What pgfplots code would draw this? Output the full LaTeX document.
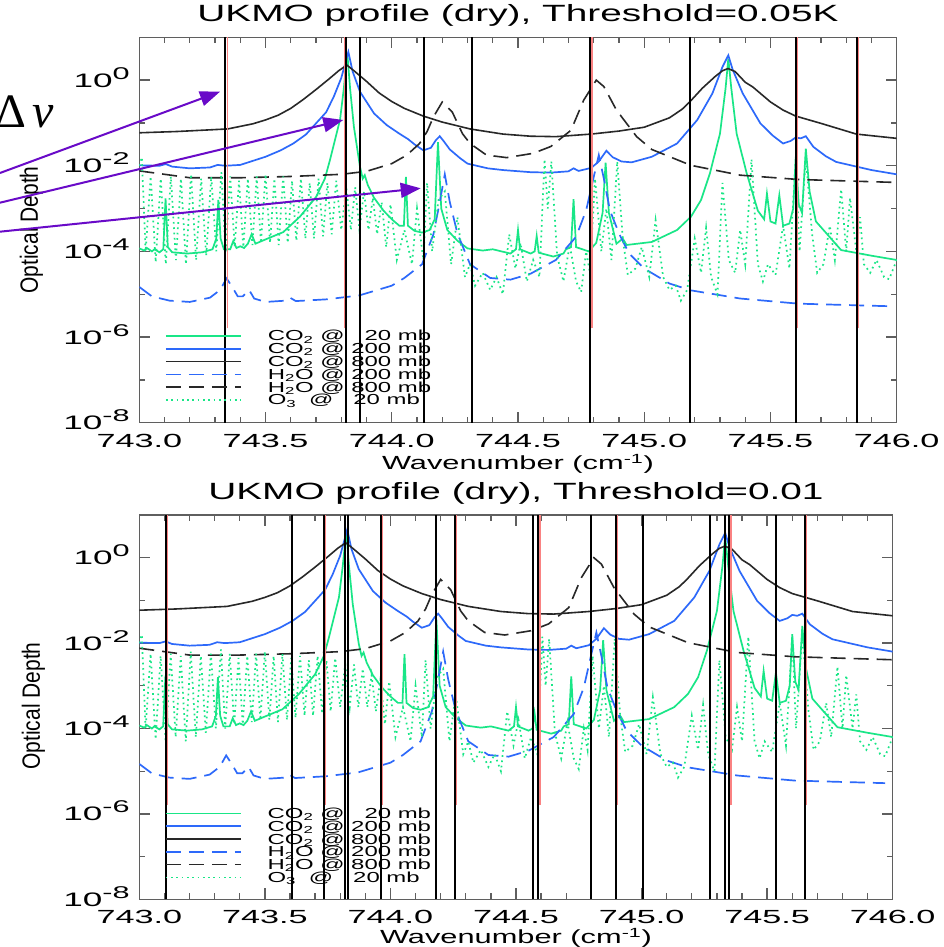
\documentclass[border=0pt]{standalone}
\usepackage{fontspec}
\setmainfont{Liberation Sans}
\newfontfamily\timesfont{Liberation Serif}
\usepackage{graphicx}
\usepackage{pgfplots}
\usepackage{pgfplotstable}
\pgfplotsset{compat=1.18}
\usetikzlibrary{arrows.meta}

\definecolor{cgreen}{RGB}{25,230,135}
\definecolor{cblue}{RGB}{45,105,250}
\definecolor{cdark}{RGB}{40,40,40}
\definecolor{cred}{RGB}{250,130,130}
\definecolor{cframe}{RGB}{95,95,95}
\definecolor{cpurple}{RGB}{105,10,200}

\newcommand{\idl}[2]{{\fontsize{#1}{#1}\selectfont\scalebox{1.65}[1]{#2}}}
\newcommand{\tk}[1]{{\fontsize{19}{19}\selectfont\scalebox{1.8}[1]{#1}}}
\newcommand{\ylab}[1]{{\fontsize{19.5}{19.5}\selectfont\scalebox{1.8}[1]{10\raisebox{8pt}{\fontsize{17}{17}\selectfont #1}}}}
\newcommand{\leg}[1]{\hspace*{26pt}\idl{14.5}{#1}}
\newcommand{\xl}[1]{{\fontsize{19}{19}\selectfont\scalebox{1.62}[1]{#1}}}
\newcommand{\yl}{{\fontsize{25}{25}\selectfont\scalebox{0.84}[1]{Optical Depth}}}

% CO2 @ 800 mb
\pgfplotstableread{
x y
743.00 5.89e-2
743.15 6.31e-2
743.35 7.24e-2
743.45 9.55e-2
743.50 1.175e-1
743.55 1.514e-1
743.60 2.188e-1
743.65 3.548e-1
743.70 6.026e-1
743.75 1.047
743.79 1.660
743.822 2.239
743.85 1.660
743.90 9.333e-1
743.95 5.012e-1
744.00 3.162e-1
744.05 2.188e-1
744.125 1.445e-1
744.20 1.047e-1
744.31 7.24e-2
744.44 5.495e-2
744.55 4.898e-2
744.65 4.786e-2
744.79 5.495e-2
744.90 6.46e-2
745.00 7.943e-2
745.10 1.318e-1
745.15 2.089e-1
745.18 3.090e-1
745.23 6.457e-1
745.28 1.202
745.31 1.660
745.332 1.862
745.36 1.585
745.40 8.913e-1
745.43 6.918e-1
745.50 3.090e-1
745.55 1.995e-1
745.60 1.445e-1
745.70 9.77e-2
745.84 5.495e-2
746.00 4.365e-2
}\coEight

% CO2 @ 200 mb
\pgfplotstableread{
x y
743.00 1.023e-2
743.08 1.0e-2
743.105 1.096e-2
743.13 9.55e-3
743.20 8.71e-3
743.28 9.12e-3
743.31 1.047e-2
743.34 1.0e-2
743.40 1.047e-2
743.50 1.622e-2
743.56 2.291e-2
743.61 3.311e-2
743.66 5.370e-2
743.70 9.77e-2
743.74 1.778e-1
743.77 4.07e-1
743.80 1.122
743.828 4.571
743.845 1.585
743.874 5.370e-1
743.93 1.660e-1
743.98 8.913e-2
744.03 5.623e-2
744.065 4.169e-2
744.09 3.162e-2
744.125 2.291e-2
744.155 2.630e-2
744.175 3.981e-2
744.19 4.898e-2
744.205 3.802e-2
744.23 2.399e-2
744.27 1.514e-2
744.30 1.122e-2
744.38 8.71e-3
744.44 7.943e-3
744.55 7.079e-3
744.63 6.918e-3
744.70 7.413e-3
744.72 8.71e-3
744.74 7.586e-3
744.79 8.913e-3
744.82 1.259e-2
744.85 2.239e-2
744.875 1.585e-2
744.91 1.259e-2
744.95 1.202e-2
745.03 1.622e-2
745.13 3.311e-2
745.21 1.175e-1
745.27 4.898e-1
745.31 2.042
745.333 3.802
745.35 1.778
745.39 4.898e-1
745.46 9.77e-2
745.51 5.012e-2
745.55 3.311e-2
745.58 3.802e-2
745.60 4.571e-2
745.62 4.365e-2
745.64 4.898e-2
745.67 2.754e-2
745.72 1.660e-2
745.76 1.230e-2
745.90 7.943e-3
746.00 6.310e-3
}\coTwo

% CO2 @ 20 mb
\pgfplotstableread{
x y
743.00 1.175e-4
743.02 1.047e-4
743.03 1.202e-4
743.05 1.0e-4
743.06 1.122e-4
743.08 9.55e-5
743.095 1.122e-4
743.104 1.738e-3
743.113 1.259e-4
743.13 9.55e-5
743.19 8.91e-5
743.25 9.55e-5
743.29 1.122e-4
743.305 1.995e-4
743.313 1.585e-3
743.322 1.995e-4
743.335 1.122e-4
743.36 1.122e-4
743.372 1.738e-4
743.385 1.202e-4
743.40 1.318e-4
743.415 1.202e-4
743.43 1.514e-4
743.445 2.512e-4
743.46 1.514e-4
743.50 1.905e-4
743.57 2.818e-4
743.636 6.457e-4
743.70 1.862e-3
743.735 5.012e-3
743.755 1.349e-2
743.775 3.981e-2
743.795 1.175e-1
743.81 6.310e-1
743.824 4.169
743.835 6.310e-1
743.85 8.13e-2
743.874 9.55e-3
743.885 5.012e-3
743.893 6.026e-3
743.905 3.548e-3
743.93 1.778e-3
743.966 9.12e-4
744.00 5.623e-4
744.03 3.981e-4
744.048 3.981e-4
744.056 5.495e-3
744.064 3.981e-4
744.09 3.020e-4
744.12 2.754e-4
744.15 3.162e-4
744.17 5.623e-4
744.183 3.548e-2
744.196 1.0e-3
744.22 3.162e-4
744.26 1.778e-4
744.30 1.175e-4
744.36 1.047e-4
744.40 1.122e-4
744.47 8.91e-5
744.492 1.122e-4
744.50 3.162e-4
744.508 1.122e-4
744.55 8.91e-5
744.566 1.0e-4
744.574 2.291e-4
744.582 9.33e-5
744.64 7.586e-5
744.68 8.91e-5
744.69 1.122e-4
744.71 1.259e-4
744.72 1.660e-3
744.73 1.259e-4
744.78 1.0e-4
744.81 1.585e-4
744.835 7.943e-4
744.847 1.175e-2
744.86 7.943e-4
744.89 1.514e-4
744.915 1.995e-4
744.93 1.413e-4
745.03 1.660e-4
745.13 3.162e-4
745.185 6.457e-4
745.225 1.585e-3
745.26 6.607e-3
745.30 5.623e-2
745.322 6.310e-1
745.333 3.162
745.345 6.310e-1
745.366 5.623e-2
745.406 6.607e-3
745.45 8.913e-4
745.475 5.623e-4
745.486 2.239e-3
745.50 5.012e-4
745.52 4.467e-4
745.535 2.042e-3
745.55 3.981e-4
745.575 4.467e-4
745.59 1.0e-3
745.600 1.622e-2
745.612 1.259e-3
745.625 7.943e-4
745.64 2.512e-2
745.655 2.512e-3
745.68 5.012e-4
745.78 1.072e-4
745.90 7.943e-5
746.00 6.310e-5
}\coTwenty

% H2O @ 200 mb
\pgfplotstableread{
x y
743.00 1.479e-5
743.05 8.91e-6
743.12 7.079e-6
743.20 6.607e-6
743.28 8.318e-6
743.32 1.259e-5
743.346 2.344e-5
743.37 1.413e-5
743.39 8.91e-6
743.41 8.91e-6
743.435 1.259e-5
743.455 7.943e-6
743.50 6.607e-6
743.58 7.079e-6
743.597 8.318e-6
743.62 6.918e-6
743.74 7.586e-6
743.87 9.333e-6
744.00 1.585e-5
744.05 2.399e-5
744.12 5.012e-5
744.165 2.512e-4
744.19 1.413e-3
744.21 6.310e-3
744.23 1.413e-3
744.26 2.630e-4
744.31 5.012e-5
744.39 2.399e-5
744.47 2.188e-5
744.55 3.020e-5
744.65 6.310e-5
744.73 2.188e-4
744.77 9.12e-4
744.80 5.495e-3
744.82 1.778e-2
744.84 5.012e-3
744.864 9.12e-4
744.90 2.630e-4
744.94 8.91e-5
745.00 3.981e-5
745.10 1.778e-5
745.185 1.230e-5
745.38 7.943e-6
745.61 6.026e-6
745.97 5.248e-6
}\hTwo

% H2O @ 800 mb
\pgfplotstableread{
x y
743.00 7.586e-3
743.20 5.248e-3
743.40 5.248e-3
743.60 5.623e-3
743.80 6.310e-3
743.90 7.413e-3
744.00 1.122e-2
744.06 1.778e-2
744.11 3.311e-2
744.14 6.310e-2
744.165 1.380e-1
744.20 3.090e-1
744.24 1.778e-1
744.28 5.623e-2
744.31 3.311e-2
744.375 1.778e-2
744.455 1.549e-2
744.56 1.950e-2
744.63 2.818e-2
744.71 6.761e-2
744.76 3.388e-1
744.81 1.0
744.84 7.079e-1
744.89 1.995e-1
744.97 4.786e-2
745.03 2.399e-2
745.185 1.023e-2
745.38 6.026e-3
745.61 4.786e-3
746.00 4.074e-3
}\hEight

% O3 @ 20 mb
\pgfplotstableread{
x y
743.000 1.0e-2
743.010 1.585e-2
743.025 1.0e-4
743.045 5.623e-3
743.065 5.623e-5
743.085 5.012e-3
743.105 5.012e-5
743.125 5.623e-3
743.145 6.310e-5
743.165 5.012e-3
743.185 5.012e-5
743.205 6.310e-3
743.225 6.310e-5
743.245 5.012e-3
743.265 7.943e-5
743.285 5.623e-3
743.305 1.0e-4
743.325 7.079e-3
743.342 1.0e-4
743.36 5.623e-3
743.378 1.259e-4
743.395 4.467e-3
743.412 1.259e-4
743.43 5.012e-3
743.448 1.413e-4
743.465 5.623e-3
743.482 1.585e-4
743.50 6.310e-3
743.518 1.585e-4
743.535 5.012e-3
743.552 1.413e-4
743.57 5.623e-3
743.588 1.585e-4
743.605 4.467e-3
743.622 1.778e-4
743.64 5.012e-3
743.658 1.995e-4
743.675 3.981e-3
743.692 1.995e-4
743.71 5.012e-3
743.728 2.239e-4
743.745 3.981e-3
743.762 2.512e-4
743.78 4.467e-3
743.80 3.162e-4
743.82 3.162e-3
743.838 3.162e-4
743.855 3.162e-3
743.872 3.162e-4
743.89 2.512e-3
743.908 3.162e-4
743.925 1.778e-3
743.942 2.512e-4
743.96 1.413e-3
743.978 1.259e-4
743.995 1.259e-3
744.02 6.310e-5
744.05 3.162e-4
744.08 5.012e-5
744.10 1.0e-3
744.125 6.310e-5
744.14 3.981e-3
744.16 1.0e-4
744.185 1.585e-3
744.21 2.512e-3
744.235 5.012e-5
744.26 6.310e-4
744.29 2.512e-5
744.31 5.012e-5
744.33 1.585e-5
744.36 3.162e-5
744.39 1.259e-5
744.415 2.512e-5
744.44 1.0e-5
744.465 2.512e-4
744.49 3.981e-5
744.51 1.585e-4
744.535 1.995e-5
744.56 6.310e-5
744.585 2.512e-5
744.605 1.413e-2
744.618 1.0e-3
744.632 1.259e-2
744.655 7.943e-5
744.68 1.995e-5
744.705 1.413e-4
744.73 1.995e-5
744.75 1.122e-5
744.77 1.0e-4
744.785 3.162e-5
744.805 5.012e-3
744.83 1.0e-4
744.85 1.0e-3
744.87 6.310e-5
744.893 1.259e-2
744.915 1.995e-4
744.935 2.818e-5
744.965 3.981e-5
744.99 1.259e-4
745.02 2.512e-5
745.045 5.370e-4
745.075 2.512e-5
745.10 1.259e-5
745.125 1.585e-5
745.145 7.079e-6
745.17 1.259e-5
745.20 1.995e-4
745.225 3.162e-5
745.245 3.548e-4
745.265 2.512e-5
745.29 1.0e-5
745.31 3.981e-3
745.335 6.310e-5
745.36 3.162e-5
745.38 3.162e-4
745.40 5.012e-5
745.425 1.413e-2
745.45 5.012e-5
745.47 1.995e-5
745.49 5.012e-5
745.52 2.818e-5
745.55 3.981e-4
745.575 3.981e-5
745.60 1.413e-2
745.615 1.0e-4
745.64 1.585e-2
745.665 2.512e-4
745.685 3.162e-5
745.71 5.012e-5
745.735 3.981e-4
745.755 6.310e-5
745.78 2.818e-3
745.80 1.0e-4
745.815 1.778e-3
745.84 1.0e-4
745.855 6.310e-4
745.87 5.012e-5
745.895 3.162e-5
745.92 6.310e-5
745.95 2.512e-5
745.97 2.239e-5
746.00 6.310e-5
}\ozone

\tikzset{
  co20/.style={cgreen, line width=1.7pt},
  co200/.style={cblue, line width=1.7pt},
  co800/.style={cdark, line width=1.6pt},
  h200/.style={cblue, line width=1.7pt, dash pattern=on 15pt off 8pt},
  h800/.style={cdark, line width=1.6pt, dash pattern=on 15pt off 8pt},
  o320/.style={cgreen, line width=1.7pt, dash pattern=on 1.7pt off 3.6pt},
  vblack/.style={black, line width=1.9pt},
  vred/.style={cred, line width=1.3pt},
}

\begin{document}
\begin{tikzpicture}
\useasboundingbox (0,0) rectangle (943pt,947pt);
\fill[white] (0,0) rectangle (943pt,947pt);

% ---------- top panel ----------
\begin{axis}[
    scale only axis, ymode=log,
    xmin=743, xmax=746, ymin=1e-8, ymax=10,
    at={(139.3pt,524.3pt)}, anchor=south west,
    width=757.4pt, height=385.4pt,
    axis line style={cframe, line width=1.5pt},
    tick style={cframe, line width=1.3pt},
    tick align=inside, major tick length=11pt, minor tick length=6pt,
    xtick={743,743.5,744,744.5,745,745.5,746},
    minor x tick num=4,
    xticklabels={\tk{743.0},\tk{743.5},\tk{744.0},\tk{744.5},\tk{745.0},\tk{745.5},\tk{746.0}},
    ytick={1e-8,1e-6,1e-4,1e-2,1},
    minor ytick={1e-7,1e-5,1e-3,1e-1},
    yticklabels={\ylab{-8},\ylab{-6},\ylab{-4},\ylab{-2},\ylab{0}},
    xticklabel style={anchor=base, yshift=-25pt, inner sep=0pt},
    yticklabel style={anchor=base east, xshift=-9.5pt, yshift=-7pt, inner sep=0pt},
    xlabel={\xl{Wavenumber (cm\textsuperscript{-1})}},
    xlabel style={at={(axis description cs:0.5,0)}, anchor=base, yshift=-47pt, inner sep=0pt},
    ylabel={\yl},
    ylabel style={at={(axis description cs:-0.1423,0.5)}, rotate=0, anchor=center},
    title={\idl{23.5}{UKMO profile (dry), Threshold=0.05K}},
    title style={at={(0.5,1)}, anchor=base, yshift=9.3pt, inner sep=0pt},
    legend style={at={(0.034,0.2416)}, anchor=north west, draw=none, fill=none, inner sep=0pt, outer sep=0pt,
      row sep=0pt, column sep=0pt,
      nodes={inner sep=0pt, text height=11.4pt, text depth=1.4pt}},
    legend cell align=left,
    legend image code/.code={\draw[#1] (0pt,0pt) -- (75pt,0pt);},
]
\addplot[co20] table[x=x,y=y] {\coTwenty};
\addlegendentry{\leg{CO\textsubscript{2} @ \phantom{2}20 mb}}
\addplot[co200] table[x=x,y=y] {\coTwo};
\addlegendentry{\leg{CO\textsubscript{2} @ 200 mb}}
\addplot[co800] table[x=x,y=y] {\coEight};
\addlegendentry{\leg{CO\textsubscript{2} @ 800 mb}}
\addplot[h200] table[x=x,y=y] {\hTwo};
\addlegendentry{\leg{H\textsubscript{2}O @ 200 mb}}
\addplot[h800] table[x=x,y=y] {\hEight};
\addlegendentry{\leg{H\textsubscript{2}O @ 800 mb}}
\addplot[o320] table[x=x,y=y] {\ozone};
\addlegendentry{\leg{O\textsubscript{3}\hspace{0.25em} @ \phantom{2}20 mb}}
\pgfplotsinvokeforeach{743.349,743.814,744.793,745.608,745.848}{
  \addplot[vred, forget plot] coordinates {(#1,1.6e-6) (#1,10)};
}
\pgfplotsinvokeforeach{743.341,743.819,743.874,744.128,744.316,744.785,745.181,745.600,745.841}{
  \addplot[vblack, forget plot] coordinates {(#1,1e-8) (#1,10)};
}
\end{axis}

% ---------- bottom panel ----------
\begin{axis}[
    scale only axis, ymode=log,
    xmin=743, xmax=746, ymin=1e-8, ymax=10,
    at={(139.3pt,47.7pt)}, anchor=south west,
    width=753.4pt, height=384.3pt,
    axis line style={cframe, line width=1.5pt},
    tick style={cframe, line width=1.3pt},
    tick align=inside, major tick length=11pt, minor tick length=6pt,
    xtick={743,743.5,744,744.5,745,745.5,746},
    minor x tick num=4,
    xticklabels={\tk{743.0},\tk{743.5},\tk{744.0},\tk{744.5},\tk{745.0},\tk{745.5},\tk{746.0}},
    ytick={1e-8,1e-6,1e-4,1e-2,1},
    minor ytick={1e-7,1e-5,1e-3,1e-1},
    yticklabels={\ylab{-8},\ylab{-6},\ylab{-4},\ylab{-2},\ylab{0}},
    xticklabel style={anchor=base, yshift=-24.5pt, inner sep=0pt},
    yticklabel style={anchor=base east, xshift=-9.5pt, yshift=-7pt, inner sep=0pt},
    xlabel={\xl{Wavenumber (cm\textsuperscript{-1})}},
    xlabel style={at={(axis description cs:0.5,0)}, anchor=base, yshift=-44pt, inner sep=0pt},
    ylabel={\yl},
    ylabel style={at={(axis description cs:-0.1404,0.503)}, rotate=0, anchor=center},
    title={\idl{23.5}{UKMO profile (dry), Threshold=0.01}},
    title style={at={(0.5,1)}, anchor=base, yshift=9.8pt, inner sep=0pt},
    legend style={at={(0.034,0.240)}, anchor=north west, draw=none, fill=none, inner sep=0pt, outer sep=0pt,
      row sep=0pt, column sep=0pt,
      nodes={inner sep=0pt, text height=11.4pt, text depth=1.4pt}},
    legend cell align=left,
    legend image code/.code={\draw[#1] (0pt,0pt) -- (75pt,0pt);},
]
\addplot[co20] table[x=x,y=y] {\coTwenty};
\addlegendentry{\leg{CO\textsubscript{2} @ \phantom{2}20 mb}}
\addplot[co200] table[x=x,y=y] {\coTwo};
\addlegendentry{\leg{CO\textsubscript{2} @ 200 mb}}
\addplot[co800] table[x=x,y=y] {\coEight};
\addlegendentry{\leg{CO\textsubscript{2} @ 800 mb}}
\addplot[h200] table[x=x,y=y] {\hTwo};
\addlegendentry{\leg{H\textsubscript{2}O @ 200 mb}}
\addplot[h800] table[x=x,y=y] {\hEight};
\addlegendentry{\leg{H\textsubscript{2}O @ 800 mb}}
\addplot[o320] table[x=x,y=y] {\ozone};
\addlegendentry{\leg{O\textsubscript{3}\hspace{0.25em} @ \phantom{2}20 mb}}
\pgfplotsinvokeforeach{743.112,743.740,743.969,744.262,744.596,744.902,745.356,745.657}{
  \addplot[vred, forget plot] coordinates {(#1,1.6e-6) (#1,10)};
}
\pgfplotsinvokeforeach{743.105,743.607,743.735,743.818,743.832,743.964,744.180,744.257,744.569,744.589,744.799,744.897,745.005,745.273,745.332,745.349,745.535,745.651}{
  \addplot[vblack, forget plot] coordinates {(#1,1e-8) (#1,10)};
}
\end{axis}

% ---------- annotation ----------
\node[anchor=base east, inner sep=0pt] at (54pt,819pt) {\timesfont\fontsize{48}{48}\selectfont Δ\hspace{6pt}\itshape ν};
\draw[cpurple, line width=2pt, -{Triangle[length=20pt,width=15pt]}] (0pt,774pt) -- (220pt,855.3pt);
\draw[cpurple, line width=2pt, -{Triangle[length=20pt,width=15pt]}] (0pt,744.3pt) -- (343.3pt,827pt);
\draw[cpurple, line width=2pt, -{Triangle[length=20pt,width=15pt]}] (0pt,715.3pt) -- (420.7pt,758.7pt);
\end{tikzpicture}
\end{document}
